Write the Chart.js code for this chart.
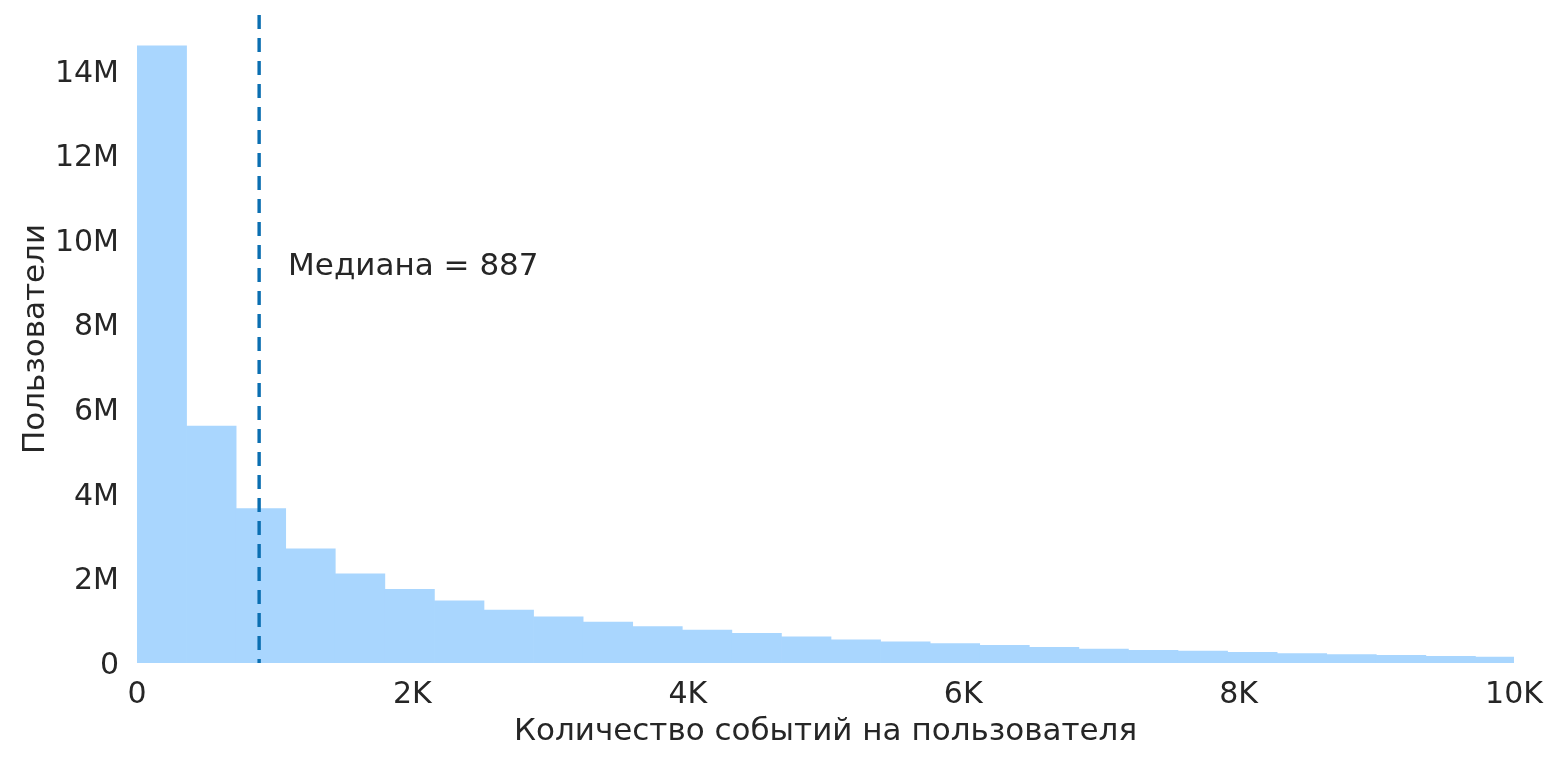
<!DOCTYPE html>
<html>
<head>
<meta charset="utf-8">
<script src="https://cdn.jsdelivr.net/npm/chart.js@4"></script>
<style>
  html, body { margin: 0; padding: 0; background: #ffffff; }
  #wrap { width: 1560px; height: 764px; }
</style>
</head>
<body>
<div id="wrap"><canvas id="histChart"></canvas></div>
<script>
// Histogram of events per user
const binWidth = 360;
const binCenters = [180, 540, 900, 1260, 1620, 1980, 2340, 2700, 3060, 3420,
  3780, 4140, 4500, 4860, 5220, 5580, 5940, 6300, 6660, 7020,
  7380, 7740, 8100, 8460, 8820, 9180, 9540, 9900];
const userCounts = [14.59e6, 5.60e6, 3.65e6, 2.70e6, 2.11e6, 1.74e6, 1.47e6, 1.25e6, 1.09e6, 0.97e6,
  0.86e6, 0.78e6, 0.70e6, 0.62e6, 0.55e6, 0.50e6, 0.46e6, 0.42e6, 0.37e6, 0.33e6,
  0.30e6, 0.28e6, 0.25e6, 0.22e6, 0.20e6, 0.18e6, 0.16e6, 0.14e6];
const xTickValues = [0, 2000, 4000, 6000, 8000, 10000];
const yTickValues = [0, 2e6, 4e6, 6e6, 8e6, 10e6, 12e6, 14e6];
const medianValue = 887;
const medianLabel = 'Медиана = 887';
const labelPos = { x: 1097, y: 9.36e6 };

const textColor = '#262626';
const fontFamily = '"DejaVu Sans", sans-serif';

// Function to draw the median line and its label
const medianPlugin = {
  id: 'median',
  afterDatasetsDraw(chart) {
    const { ctx, chartArea, scales } = chart;
    const x = scales.x.getPixelForValue(medianValue);
    ctx.save();
    ctx.strokeStyle = '#0b6fb1';
    ctx.lineWidth = 3.4;
    ctx.setLineDash([14, 9]);
    ctx.beginPath();
    ctx.moveTo(x, chartArea.top);
    ctx.lineTo(x, chartArea.bottom);
    ctx.stroke();
    ctx.setLineDash([]);
    ctx.fillStyle = textColor;
    ctx.font = '31px ' + fontFamily;
    ctx.textAlign = 'left';
    ctx.textBaseline = 'middle';
    ctx.fillText(medianLabel, scales.x.getPixelForValue(labelPos.x), scales.y.getPixelForValue(labelPos.y));
    ctx.restore();
  }
};

function initHistChart() {
  const ctx = document.getElementById('histChart');
  if (!ctx) return;
  new Chart(ctx, {
    type: 'bar',
    data: {
      datasets: [{
        label: 'Пользователи',
        data: binCenters.map((c, i) => ({ x: c, y: userCounts[i] })),
        backgroundColor: '#a9d6fe',
        borderWidth: 0,
        barPercentage: 1,
        categoryPercentage: 1
      }]
    },
    options: {
      responsive: true,
      maintainAspectRatio: false,
      animation: false,
      layout: {
        padding: { top: 15, right: 46, left: 0, bottom: 0 }
      },
      scales: {
        x: {
          type: 'linear',
          offset: false,
          min: 0,
          max: 10000,
          grid: { display: false },
          border: { display: false },
          afterBuildTicks: s => { s.ticks = xTickValues.map(v => ({ value: v })); },
          ticks: {
            padding: 6,
            color: textColor,
            font: { family: fontFamily, size: 30 },
            maxRotation: 0,
            callback: v => v === 0 ? '0' : (v / 1000) + 'K'
          },
          title: {
            display: true,
            text: 'Количество событий на пользователя',
            color: textColor,
            font: { family: fontFamily, size: 31 },
            padding: { top: 0, bottom: 13 }
          },
          afterFit: s => { s.height = 101; }
        },
        y: {
          min: 0,
          max: 15.32e6,
          grid: { display: false },
          border: { display: false },
          afterBuildTicks: s => { s.ticks = yTickValues.map(v => ({ value: v })); },
          ticks: {
            padding: 10,
            labelOffset: 3,
            color: textColor,
            font: { family: fontFamily, size: 30 },
            callback: v => v === 0 ? '0' : (v / 1e6) + 'M'
          },
          title: {
            display: true,
            text: 'Пользователи',
            color: textColor,
            font: { family: fontFamily, size: 31 },
            padding: { top: 17, bottom: 0 }
          },
          afterFit: s => {
            s.width = 137;
            s.paddingTop = 0;
            s.paddingBottom = 0;
          }
        }
      },
      plugins: {
        legend: { display: false },
        tooltip: { enabled: false }
      }
    },
    plugins: [medianPlugin]
  });
}

document.addEventListener('DOMContentLoaded', initHistChart);
</script>
</body>
</html>
